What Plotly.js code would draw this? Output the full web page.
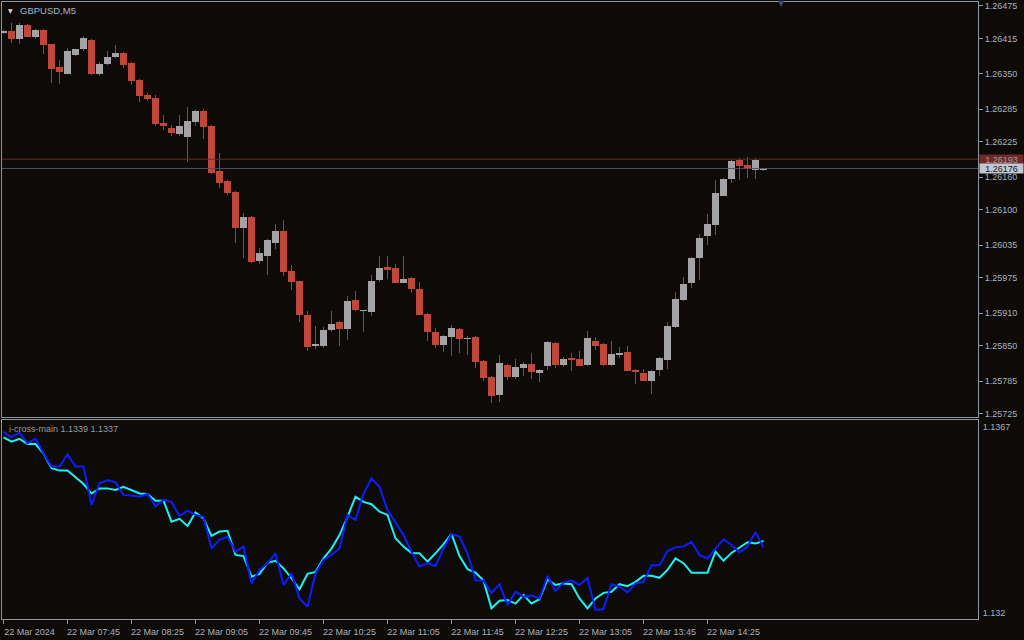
<!DOCTYPE html>
<html>
<head>
<meta charset="utf-8">
<script src="https://cdn.plot.ly/plotly-3.0.1.min.js"></script>
<style>
  html, body { margin: 0; padding: 0; background: #0d0a08; }
  #chart { width: 1024px; height: 640px; }
</style>
</head>
<body>
<div id="chart"></div>
<script>
// ---- Data (GBPUSD, M5, 22 Mar 2024) ----
const symbolTitle = 'GBPUSD,M5';
const indicatorTitle = 'i-cross-main 1.1339 1.1337';

const open = [
  1.26425, 1.26429, 1.26414, 1.26440, 1.26418, 1.26431, 1.26405, 1.26363, 1.26350, 1.26385,
  1.26396, 1.26412, 1.26350, 1.26368, 1.26381, 1.26389, 1.26370, 1.26339, 1.26311, 1.26306,
  1.26260, 1.26251, 1.26240, 1.26234, 1.26262, 1.26282, 1.26254, 1.26172, 1.26153, 1.26133,
  1.26067, 1.26087, 1.26006, 1.26015, 1.26039, 1.26061, 1.25988, 1.25969, 1.25907, 1.25850,
  1.25850, 1.25879, 1.25894, 1.25881, 1.25935, 1.25914, 1.25912, 1.25971, 1.25995, 1.25993,
  1.25966, 1.25975, 1.25955, 1.25909, 1.25876, 1.25852, 1.25867, 1.25881, 1.25863, 1.25867,
  1.25822, 1.25793, 1.25760, 1.25815, 1.25793, 1.25810, 1.25817, 1.25800, 1.25813, 1.25856,
  1.25815, 1.25828, 1.25826, 1.25815, 1.25859, 1.25854, 1.25815, 1.25833, 1.25839, 1.25806,
  1.25800, 1.25786, 1.25806, 1.25824, 1.25885, 1.25935, 1.25966, 1.26012, 1.26052, 1.26072,
  1.26126, 1.26157, 1.26192, 1.26183, 1.26174, 1.26174
];
const high = [
  1.26431, 1.26444, 1.26444, 1.26442, 1.26432, 1.26433, 1.26405, 1.26376, 1.26398, 1.26396,
  1.26420, 1.26414, 1.26372, 1.26392, 1.26403, 1.26390, 1.26372, 1.26341, 1.26315, 1.26311,
  1.26275, 1.26256, 1.26275, 1.26289, 1.26284, 1.26286, 1.26256, 1.26205, 1.26155, 1.26134,
  1.26094, 1.26089, 1.26030, 1.26046, 1.26074, 1.26082, 1.25999, 1.25970, 1.25914, 1.25887,
  1.25885, 1.25914, 1.25895, 1.25942, 1.25951, 1.25916, 1.25981, 1.26015, 1.26015, 1.26001,
  1.26015, 1.25976, 1.25968, 1.25910, 1.25883, 1.25869, 1.25889, 1.25882, 1.25868, 1.25868,
  1.25823, 1.25794, 1.25833, 1.25816, 1.25826, 1.25821, 1.25837, 1.25807, 1.25859, 1.25857,
  1.25830, 1.25837, 1.25841, 1.25878, 1.25867, 1.25856, 1.25859, 1.25848, 1.25850, 1.25808,
  1.25808, 1.25806, 1.25829, 1.25894, 1.25949, 1.25977, 1.26014, 1.26056, 1.26093, 1.26155,
  1.26159, 1.26191, 1.26196, 1.26197, 1.26196, 1.26177
];
const low = [
  1.26424, 1.26407, 1.26405, 1.26417, 1.26414, 1.26387, 1.26333, 1.26332, 1.26350, 1.26383,
  1.26392, 1.26348, 1.26346, 1.26367, 1.26379, 1.26361, 1.26330, 1.26299, 1.26300, 1.26254,
  1.26247, 1.26236, 1.26236, 1.26188, 1.26254, 1.26231, 1.26166, 1.26140, 1.26128, 1.26039,
  1.26012, 1.26003, 1.26001, 1.25981, 1.26028, 1.25979, 1.25953, 1.25894, 1.25841, 1.25844,
  1.25846, 1.25876, 1.25850, 1.25861, 1.25914, 1.25876, 1.25905, 1.25968, 1.25973, 1.25965,
  1.25965, 1.25947, 1.25906, 1.25859, 1.25846, 1.25839, 1.25832, 1.25837, 1.25833, 1.25810,
  1.25786, 1.25745, 1.25747, 1.25787, 1.25789, 1.25795, 1.25789, 1.25784, 1.25806, 1.25810,
  1.25811, 1.25804, 1.25812, 1.25813, 1.25843, 1.25812, 1.25813, 1.25828, 1.25803, 1.25780,
  1.25785, 1.25762, 1.25795, 1.25808, 1.25883, 1.25933, 1.25957, 1.25971, 1.26036, 1.26054,
  1.26125, 1.26150, 1.26155, 1.26159, 1.26157, 1.26172
];
const close = [
  1.26429, 1.26414, 1.26440, 1.26418, 1.26431, 1.26403, 1.26359, 1.26354, 1.26392, 1.26396,
  1.26416, 1.26350, 1.26368, 1.26381, 1.26389, 1.26367, 1.26337, 1.26310, 1.26304, 1.26258,
  1.26254, 1.26242, 1.26254, 1.26264, 1.26282, 1.26253, 1.26168, 1.26150, 1.26131, 1.26067,
  1.26087, 1.26004, 1.26021, 1.26045, 1.26061, 1.25986, 1.25968, 1.25907, 1.25848, 1.25854,
  1.25879, 1.25890, 1.25881, 1.25933, 1.25916, 1.25916, 1.25969, 1.25993, 1.25990, 1.25966,
  1.25973, 1.25955, 1.25907, 1.25876, 1.25852, 1.25868, 1.25883, 1.25863, 1.25865, 1.25821,
  1.25791, 1.25758, 1.25819, 1.25793, 1.25811, 1.25817, 1.25802, 1.25806, 1.25857, 1.25815,
  1.25826, 1.25824, 1.25813, 1.25865, 1.25850, 1.25815, 1.25835, 1.25837, 1.25804, 1.25802,
  1.25786, 1.25804, 1.25828, 1.25887, 1.25936, 1.25964, 1.26012, 1.26049, 1.26074, 1.26131,
  1.26157, 1.26190, 1.26181, 1.26175, 1.26192, 1.26176
];

// indicator "i-cross-main": two buffers
const crossMain = [
  1.13644, 1.13633, 1.13640, 1.13627, 1.13627, 1.13603, 1.13566, 1.13560, 1.13560, 1.13543,
  1.13526, 1.13502, 1.13515, 1.13515, 1.13511, 1.13519, 1.13511, 1.13502, 1.13501, 1.13484,
  1.13484, 1.13431, 1.13438, 1.13420, 1.13454, 1.13439, 1.13395, 1.13406, 1.13408, 1.13347,
  1.13344, 1.13292, 1.13299, 1.13327, 1.13332, 1.13313, 1.13288, 1.13260, 1.13299, 1.13304,
  1.13338, 1.13363, 1.13397, 1.13443, 1.13494, 1.13481, 1.13475, 1.13456, 1.13448, 1.13389,
  1.13368, 1.13352, 1.13351, 1.13330, 1.13351, 1.13374, 1.13400, 1.13344, 1.13311, 1.13302,
  1.13282, 1.13212, 1.13231, 1.13233, 1.13224, 1.13246, 1.13224, 1.13235, 1.13285, 1.13271,
  1.13275, 1.13273, 1.13237, 1.13212, 1.13237, 1.13251, 1.13254, 1.13273, 1.13268, 1.13279,
  1.13294, 1.13294, 1.13289, 1.13309, 1.13338, 1.13326, 1.13302, 1.13302, 1.13302, 1.13355,
  1.13332, 1.13352, 1.13366, 1.13379, 1.13376, 1.13382
];
const crossSignal = [
  1.13658, 1.13644, 1.13656, 1.13629, 1.13641, 1.13603, 1.13570, 1.13570, 1.13601, 1.13570,
  1.13570, 1.13473, 1.13528, 1.13536, 1.13530, 1.13498, 1.13497, 1.13494, 1.13501, 1.13470,
  1.13486, 1.13481, 1.13445, 1.13459, 1.13448, 1.13443, 1.13363, 1.13385, 1.13393, 1.13355,
  1.13368, 1.13275, 1.13309, 1.13326, 1.13351, 1.13271, 1.13300, 1.13237, 1.13216, 1.13300,
  1.13334, 1.13347, 1.13363, 1.13448, 1.13435, 1.13502, 1.13540, 1.13519, 1.13460, 1.13427,
  1.13397, 1.13355, 1.13317, 1.13326, 1.13319, 1.13363, 1.13400, 1.13393, 1.13351, 1.13282,
  1.13282, 1.13251, 1.13273, 1.13220, 1.13254, 1.13241, 1.13244, 1.13237, 1.13294, 1.13256,
  1.13277, 1.13282, 1.13271, 1.13289, 1.13208, 1.13210, 1.13273, 1.13267, 1.13252, 1.13275,
  1.13278, 1.13321, 1.13321, 1.13357, 1.13366, 1.13368, 1.13380, 1.13347, 1.13338, 1.13363,
  1.13386, 1.13372, 1.13353, 1.13368, 1.13404, 1.13366
];

const askPrice = 1.26193;
const bidPrice = 1.26176;

const priceTicks = [1.26475, 1.26415, 1.26350, 1.26285, 1.26225, 1.26160, 1.26100,
                    1.26035, 1.25975, 1.25910, 1.25850, 1.25785, 1.25725];
const indTicks = [1.1367, 1.132];
const indTickText = ['1.1367', '1.132'];
const timeTickIdx = [0, 8, 16, 24, 32, 40, 48, 56, 64, 72, 80, 88];
const timeTickText = ['22 Mar 2024', '22 Mar 07:45', '22 Mar 08:25', '22 Mar 09:05',
  '22 Mar 09:45', '22 Mar 10:25', '22 Mar 11:05', '22 Mar 11:45', '22 Mar 12:25',
  '22 Mar 13:05', '22 Mar 13:45', '22 Mar 14:25'];

// ---- Styling ----
const BG = '#0d0a08';
const FRAME = '#8f96a3';
const TXT = '#a9b1be';
const BULL = '#a3a3a5';
const BEAR = '#c1473a';
const WICK = '#56595d';
const FONT = 'Liberation Sans, Arial, sans-serif';

const idx = open.map((_, i) => i);
const bodyBase = open.map((o, i) => Math.min(o, close[i]));
const bodyLen = open.map((o, i) => Math.max(Math.abs(close[i] - o), 0.000012));
const bodyColor = open.map((o, i) => close[i] >= o ? BULL : BEAR);
const wickLen = high.map((h, i) => h - low[i]);

const traces = [
  { type: 'bar', x: idx, base: low, y: wickLen, width: 0.125,
    marker: { color: WICK, line: { width: 0 } }, xaxis: 'x', yaxis: 'y', hoverinfo: 'skip' },
  { type: 'bar', x: idx, base: bodyBase, y: bodyLen, width: 0.875,
    marker: { color: bodyColor, line: { width: 0 } }, xaxis: 'x', yaxis: 'y', hoverinfo: 'skip' },
  { type: 'scatter', mode: 'lines', x: idx, y: crossMain, xaxis: 'x2', yaxis: 'y2',
    line: { color: '#19f2f2', width: 2 }, hoverinfo: 'skip' },
  { type: 'scatter', mode: 'lines', x: idx, y: crossSignal, xaxis: 'x2', yaxis: 'y2',
    line: { color: '#0a1eff', width: 2 }, hoverinfo: 'skip' }
];

const xRange = [-0.1875, 121.8125];
const mainDomain = [0.3282, 1];
const indDomain = [0, 0.3233];

const layout = {
  width: 1024, height: 640,
  margin: { l: 2, r: 46, t: 2, b: 21 },
  paper_bgcolor: BG, plot_bgcolor: BG,
  showlegend: false, barmode: 'overlay', bargap: 0,
  font: { family: FONT, size: 9, color: TXT },
  xaxis: {
    anchor: 'y', domain: [0, 1], range: xRange, showticklabels: false, ticks: '',
    showgrid: false, zeroline: false, showline: true, mirror: true, linecolor: FRAME, linewidth: 1
  },
  xaxis2: {
    anchor: 'y2', domain: [0, 1], range: xRange, matches: 'x',
    tickmode: 'array', tickvals: timeTickIdx, ticktext: timeTickText,
    ticks: 'outside', ticklen: 4, tickcolor: FRAME, ticklabelshift: 26,
    tickfont: { family: FONT, size: 9, color: TXT },
    showgrid: false, zeroline: false, showline: true, mirror: true, linecolor: FRAME, linewidth: 1
  },
  yaxis: {
    anchor: 'x', domain: mainDomain, range: [1.25720, 1.26482], side: 'right',
    tickmode: 'array', tickvals: priceTicks, ticktext: priceTicks.map(v => v.toFixed(5)),
    ticks: 'outside', ticklen: 4, tickcolor: FRAME,
    tickfont: { family: FONT, size: 9, color: TXT },
    showgrid: false, zeroline: false, showline: true, mirror: true, linecolor: FRAME, linewidth: 1
  },
  yaxis2: {
    anchor: 'x2', domain: indDomain, range: [1.13185, 1.13689], side: 'right',
    tickmode: 'array', tickvals: indTicks, ticktext: indTickText,
    ticks: 'outside', ticklen: 2, tickcolor: BG,
    tickfont: { family: FONT, size: 9, color: TXT },
    showgrid: false, zeroline: false, showline: true, mirror: true, linecolor: FRAME, linewidth: 1
  },
  shapes: [
    { type: 'line', xref: 'x domain', x0: 0, x1: 1, yref: 'y', y0: askPrice, y1: askPrice,
      line: { color: '#5c2f2f', width: 1 } },
    { type: 'line', xref: 'x domain', x0: 0, x1: 1, yref: 'y', y0: bidPrice, y1: bidPrice,
      line: { color: '#4b5263', width: 1 } }
  ],
  annotations: [
    { xref: 'paper', yref: 'paper', x: 0, y: 1, xanchor: 'left', yanchor: 'middle',
      xshift: 16, yshift: -8, showarrow: false, text: symbolTitle,
      font: { family: FONT, size: 9.5, color: '#aab4c8' } },
    { xref: 'paper', yref: 'paper', x: 0, y: 1, xanchor: 'center', yanchor: 'middle',
      xshift: 8, yshift: -8, showarrow: false, text: '▼',
      font: { family: 'DejaVu Sans', size: 6, color: '#d8d8d8' } },
    { xref: 'paper', yref: 'paper', x: 0, y: indDomain[1], xanchor: 'left', yanchor: 'middle',
      xshift: 5, yshift: -9, showarrow: false, text: indicatorTitle,
      font: { family: FONT, size: 9, color: '#9a9a9a' } },
    { xref: 'x', yref: 'paper', x: 97.2, y: 1, xanchor: 'center', yanchor: 'middle',
      yshift: -1, showarrow: false, text: '▼',
      font: { family: 'DejaVu Sans', size: 8, color: '#3e4c6e' } },
    { xref: 'paper', yref: 'y', x: 1, y: askPrice, xanchor: 'left', yanchor: 'middle',
      xshift: 1, showarrow: false, text: askPrice.toFixed(5), width: 43, height: 9,
      borderpad: 0, bgcolor: '#6d2b2b', align: 'center',
      font: { family: FONT, size: 9, color: '#a89898' } },
    { xref: 'paper', yref: 'y', x: 1, y: bidPrice, xanchor: 'left', yanchor: 'middle',
      xshift: 1, showarrow: false, text: bidPrice.toFixed(5), width: 43, height: 9,
      borderpad: 0, bgcolor: '#c3c7cf', align: 'center',
      font: { family: FONT, size: 9, color: '#10161f' } }
  ]
};

Plotly.newPlot('chart', traces, layout, { staticPlot: true, displayModeBar: false });
</script>
</body>
</html>
